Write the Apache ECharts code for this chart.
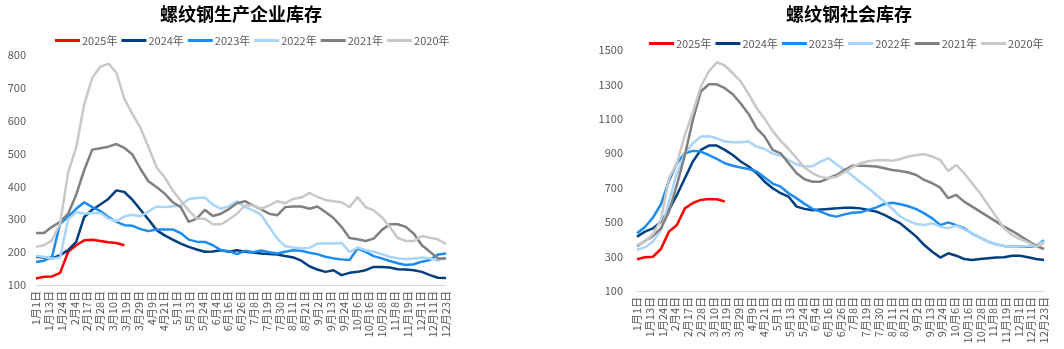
<!DOCTYPE html>
<html><head><meta charset="utf-8">
<script src="https://cdn.jsdelivr.net/npm/echarts@6/dist/echarts.min.js"></script>
<style>html,body{margin:0;padding:0;background:#fff}#c{width:1064px;height:349px}</style>
</head><body><div id="c"></div>
<script>
const dateLabels = ['1月1日','1月13日','1月24日','2月4日','2月17日','2月28日','3月10日','3月19日','3月29日','4月9日','4月21日','5月1日','5月13日','5月24日','6月4日','6月16日','6月26日','7月8日','7月19日','7月30日','8月11日','8月21日','9月2日','9月13日','9月24日','10月6日','10月16日','10月28日','11月8日','11月19日','12月1日','12月11日','12月23日'];
const seriesNames = ['2025年','2024年','2023年','2022年','2021年','2020年'];
const seriesColors = ['#FF0000','#003F7F','#1C8CF0','#A9D5FB','#808080','#C8C8C8'];

// 螺纹钢生产企业库存 (weekly)
const prod2025 = [120,125,126,137,201,221,236,238,234,230,228,221];
const prod2024 = [186,184,181,191,206,231,307,329,345,362,388,383,359,329,299,267,251,238,226,216,208,201,202,206,201,206,201,199,196,194,193,188,184,174,157,147,140,145,130,137,140,145,155,155,153,148,147,145,140,130,122,121];
const prod2023 = [170,174,186,287,307,332,352,337,325,307,292,282,280,270,264,269,269,269,258,238,232,231,221,206,203,194,204,200,205,200,196,201,206,204,198,194,186,181,178,176,211,201,188,181,173,166,161,163,171,176,193,196];
const prod2022 = [188,186,180,184,300,322,317,319,319,302,294,309,314,309,324,339,337,340,342,362,365,366,345,332,340,355,337,327,314,277,241,218,214,211,213,226,226,226,228,201,214,206,201,194,186,181,179,181,184,181,174,184];
const prod2021 = [258,258,277,292,317,375,450,512,516,521,529,517,497,453,415,398,378,352,337,292,302,329,310,317,331,349,355,342,330,317,312,337,339,339,332,339,322,304,277,243,239,234,241,267,285,285,277,256,221,201,181,181];
const prod2020 = [216,221,236,287,443,519,650,731,764,774,746,666,620,578,519,458,428,388,357,327,302,302,285,285,299,317,342,342,332,342,355,349,362,366,380,368,359,355,352,337,368,337,327,307,277,243,234,234,249,244,239,224];

// 螺纹钢社会库存 (weekly)
const soc2025 = [284,296,299,344,445,483,580,611,629,635,633,620];
const soc2024 = [416,445,464,503,571,658,755,852,920,945,945,920,890,852,823,784,735,697,668,648,590,577,569,573,577,580,584,584,580,571,561,542,518,493,454,416,367,328,294,319,305,286,280,286,290,294,296,305,305,296,286,280];
const soc2023 = [435,472,526,604,739,842,900,914,910,890,867,842,828,817,809,794,759,724,706,668,638,606,577,561,542,532,545,555,557,571,586,606,613,604,592,576,551,522,483,499,483,464,433,410,387,371,361,357,357,357,361,395];
const soc2022 = [340,354,387,454,619,784,900,958,997,999,987,968,964,964,968,939,925,898,887,861,836,823,825,852,871,836,803,770,732,697,658,619,577,532,507,489,483,493,474,464,480,458,435,410,387,371,361,357,359,361,367,387];
const soc2021 = [361,390,420,464,561,716,890,1094,1259,1301,1301,1278,1243,1189,1127,1045,997,920,900,842,784,749,735,735,755,774,803,828,828,826,823,813,803,797,788,774,745,726,700,639,658,619,590,561,532,503,474,449,421,392,363,344];
const soc2020 = [367,387,431,513,755,842,1007,1137,1288,1375,1429,1410,1365,1317,1243,1162,1100,1030,972,925,871,817,784,763,755,764,790,819,842,854,859,861,857,867,881,890,894,881,861,797,832,784,726,668,600,532,464,425,402,383,357,380];

const prodSets = [prod2025,prod2024,prod2023,prod2022,prod2021,prod2020];
const socSets = [soc2025,soc2024,soc2023,soc2022,soc2021,soc2020];

const FONT = '"Noto Sans CJK SC", sans-serif';
const labelColor = '#595959';

function toPoints(arr){ return arr.map((v,i)=>[i,v]); }

function makeSeries(sets, xIdx, yIdx){
  return sets.map((arr,k)=>({
    name: seriesNames[k], type:'line', xAxisIndex:xIdx, yAxisIndex:yIdx,
    data: toPoints(arr), showSymbol:false, symbol:'none', smooth:false,
    lineStyle:{width:2.5,color:seriesColors[k]}, itemStyle:{color:seriesColors[k]},
    animation:false
  }));
}

function catAxis(grid){
  return {type:'category', gridIndex:grid, data:dateLabels, boundaryGap:false,
    axisLine:{lineStyle:{color:'#D9D9D9',width:1}}, axisTick:{show:false},
    axisLabel:{interval:0, rotate:90, fontSize:11, color:labelColor, fontFamily:FONT, margin:6}};
}
function valX(grid){ return {type:'value', gridIndex:grid, min:0, max:51, show:false}; }

const legendCommon = {icon:'rect', itemWidth:25, itemHeight:3, itemGap:4, width:440, orient:'horizontal',
  textStyle:{fontSize:11, color:labelColor, fontFamily:FONT, padding:[0,0,0,-3]}, data:seriesNames};

const option = {
  animation:false,
  title:[
    {text:'螺纹钢生产企业库存', left:236, top:0, textAlign:'center', textStyle:{fontSize:18, fontWeight:'bold', color:'#000', fontFamily:FONT}},
    {text:'螺纹钢社会库存', left:844, top:0, textAlign:'center', textStyle:{fontSize:18, fontWeight:'bold', color:'#000', fontFamily:FONT}}
  ],
  legend:[
    Object.assign({left:50, top:30}, legendCommon),
    Object.assign({left:644, top:33}, legendCommon)
  ],
  grid:[
    {left:36, top:55, width:410, height:230},
    {left:637, top:50, width:407, height:241}
  ],
  xAxis:[catAxis(0), valX(0), catAxis(1), valX(1)],
  yAxis:[
    {type:'value', gridIndex:0, min:100, max:800, interval:100, splitLine:{show:false},
      axisLine:{show:false}, axisTick:{show:false},
      axisLabel:{fontSize:11, color:labelColor, fontFamily:FONT, margin:10, formatter:v=>String(v)}},
    {type:'value', gridIndex:1, min:100, max:1500, interval:200, splitLine:{show:false},
      axisLine:{show:false}, axisTick:{show:false},
      axisLabel:{fontSize:11, color:labelColor, fontFamily:FONT, margin:14, formatter:v=>String(v)}}
  ],
  series: makeSeries(prodSets,1,0).concat(makeSeries(socSets,3,1))
};

const chart = echarts.init(document.getElementById('c'), null, {renderer:'canvas'});
chart.setOption(option);
</script></body></html>
